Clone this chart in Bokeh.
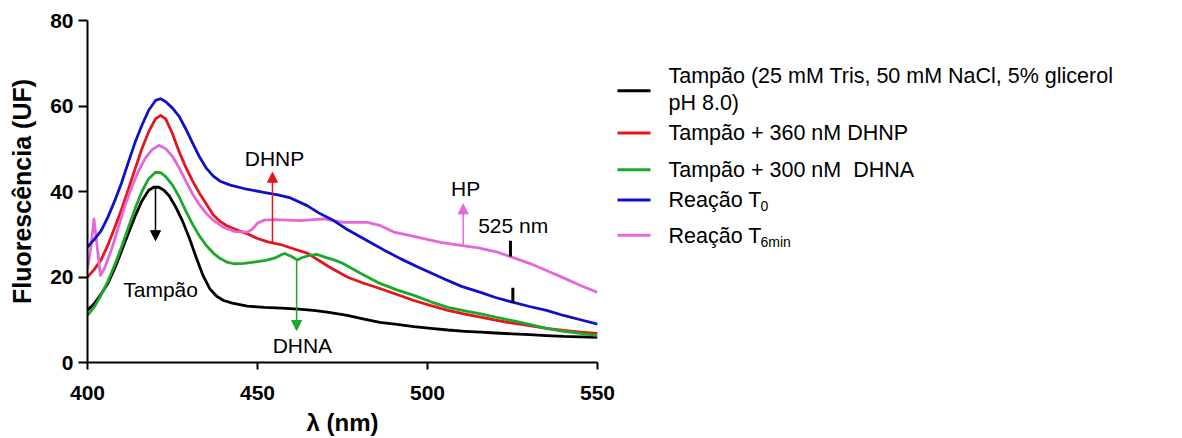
from bokeh.plotting import figure
from bokeh.models import Range1d, Label, Arrow, NormalHead
from bokeh.layouts import row
from bokeh.embed import file_html
from bokeh.resources import INLINE

# ---------------- data ----------------
lam_tampao = [400, 402, 404, 406, 408, 410, 412, 414, 416, 418, 419.5, 421, 422.5, 424, 426,
              428, 430, 432, 434, 436, 438, 440, 442.6, 447, 452, 457, 462, 466.5, 471,
              476.4, 481, 486, 491, 496, 501, 506, 511, 515.6, 520, 525, 530, 535, 540,
              545, 550]
uf_tampao = [12.2, 13.8, 16, 18.5, 22, 26, 30.2, 34.2, 37.8, 40.3, 41, 41, 40.3, 39, 36.3,
             33, 29, 24.5, 20.3, 17.2, 15.5, 14.5, 13.9, 13.2, 12.9, 12.7, 12.5, 12.2, 11.7,
             11, 10.2, 9.4, 8.9, 8.4, 8, 7.6, 7.3, 7.1, 6.9, 6.7, 6.5, 6.3, 6.1,
             6, 5.9]

lam_dhnp = [400, 402, 404, 406, 408, 410, 412, 414, 416, 418, 420, 421.5, 423, 425, 427,
            429, 431, 433, 435, 437, 439, 441, 444, 447, 450, 453, 456.8, 461, 464.6, 471,
            476.4, 481, 486, 491, 496, 501, 506, 511, 515.6, 520, 525, 530, 535, 540, 545,
            550]
uf_dhnp = [20, 21.8, 24, 27.5, 31.5, 35.8, 40.5, 45.3, 50, 54, 57, 57.8, 57, 53.5, 49.2,
           45.5, 42.3, 39.5, 37, 34.5, 33, 32, 31, 30.1, 29, 28.2, 27.6, 26.5, 25.6, 22.4,
           20, 18.6, 17.3, 15.9, 14.5, 13.3, 12.2, 11.3, 10.6, 9.9, 9.2, 8.6, 8, 7.5, 7.1,
           6.8]

lam_dhna = [400, 402, 404, 406, 408, 410, 412, 414, 416, 418, 420, 421.5, 423, 425, 427,
            429, 431, 433, 435, 437, 439, 441, 443, 446, 449, 452.4, 455, 457, 458, 460,
            461.7, 463, 465, 467.5, 470, 472.5, 475, 480, 486, 491, 496, 501, 506, 511,
            515.6, 520, 525, 530, 535, 540, 545, 550]
uf_dhna = [11, 13, 15.8, 19, 22.8, 27, 31.5, 36, 40, 43, 44.5, 44.4, 43.5, 41.5, 38.7,
           35.3, 32.2, 29.5, 27.3, 25.6, 24.3, 23.5, 23.1, 23.2, 23.5, 23.9, 24.4, 25.2,
           25.5, 24.8, 24, 24.5, 25, 25.3, 24.6, 24, 23.2, 21, 18.5, 17, 15.7, 14.2, 12.9,
           12.1, 11.4, 10.6, 9.8, 8.9, 8, 7.3, 6.8, 6.3]

lam_t0 = [400, 402, 404, 406, 408, 410, 412, 414, 416, 418, 420, 421.5, 423, 425, 427, 429,
          431, 433, 435, 437, 439, 442, 446, 451.8, 456, 459.7, 464.6, 468, 472.4, 476,
          482.3, 487, 492, 497, 504.8, 510, 515.6, 520, 525, 530, 535, 540, 545, 550]
uf_t0 = [27, 28.8, 30.8, 34, 37.8, 42, 46.8, 51.5, 55.5, 59, 61.3, 61.7, 61, 59.5, 57.5,
         54.5, 51.2, 48, 45.4, 43.6, 42.4, 41.5, 40.7, 39.8, 39.2, 38.5, 36.7, 35, 33.2, 31.3,
         28.5, 26.4, 24.3, 22.4, 19.6, 17.8, 16.4, 15.2, 14.1, 13.1, 12.2, 11, 10, 9]

lam_t6 = [400, 401, 401.9, 403, 403.8, 405, 407.3, 409, 411.2, 413, 415, 417, 419, 421, 423,
          425, 427, 429, 431, 433, 435, 437, 440, 443.5, 447, 448.5, 450, 452, 455, 462.6,
          469.4, 475.3, 482.3, 486.2, 490.1, 497, 503.8, 509.7, 515, 520.6, 525, 530, 535,
          540, 545, 550]
uf_t6 = [22, 27, 33.6, 26, 20.4, 22, 27, 31.5, 37.1, 41, 44.8, 47.8, 49.8, 50.8, 50,
         48.2, 45.5, 42.3, 39.3, 36.8, 34.8, 33.3, 31.6, 30.6, 30.5, 31.2, 32.6, 33.3, 33.4,
         33.2, 33.6, 32.8, 32.8, 32, 30.5, 29.3, 28.1, 27.4, 26.8, 25.8, 24.6, 23.2, 21.5,
         19.8, 18, 16.4]

colors = ["#000000", "#e4161c", "#1ca82a", "#1010c8", "#e468d8"]
x_ticks = [400, 450, 500, 550]
y_ticks = [0, 20, 40, 60, 80]

FONT = "Liberation Sans"

# ---------------- main chart ----------------
p = figure(width=615, height=438, output_backend="svg", toolbar_location=None, tools="",
           x_range=Range1d(400, 550), y_range=Range1d(0, 80),
           min_border_left=87, min_border_right=18, min_border_top=20, min_border_bottom=76)
p.outline_line_color = None
p.grid.visible = False
p.background_fill_color = "white"
p.border_fill_color = "white"

series = [(lam_tampao, uf_tampao), (lam_dhnp, uf_dhnp), (lam_dhna, uf_dhna),
          (lam_t6, uf_t6), (lam_t0, uf_t0)]
order_colors = [colors[0], colors[1], colors[2], colors[4], colors[3]]
for (lx, ly), c in zip(series, order_colors):
    p.line(lx, ly, line_color=c, line_width=2.8, line_join="round")

for ax in (p.xaxis[0], p.yaxis[0]):
    ax.axis_line_width = 2
    ax.axis_line_color = "black"
    ax.major_tick_line_width = 2
    ax.major_tick_in = 0
    ax.minor_tick_line_color = None
    ax.major_label_text_font = FONT
    ax.major_label_text_font_style = "bold"
    ax.major_label_text_font_size = "21px"
    ax.major_label_text_color = "black"
    ax.axis_label_text_font = FONT
    ax.axis_label_text_font_style = "bold"
    ax.axis_label_text_color = "black"

p.xaxis.ticker = x_ticks
p.yaxis.ticker = y_ticks
p.xaxis.major_tick_out = 7
p.yaxis.major_tick_out = 9
p.xaxis.major_label_standoff = 16
p.yaxis.major_label_standoff = 5
p.xaxis.axis_label = "λ (nm)"
p.yaxis.axis_label = "Fluorescência (UF)"
p.xaxis.axis_label_text_font_size = "24px"
p.yaxis.axis_label_text_font_size = "25px"
p.xaxis.axis_label_standoff = 6
p.yaxis.axis_label_standoff = 11

# annotation arrows
def arrow(x, y0, y1, c):
    p.add_layout(Arrow(x_start=x, y_start=y0, x_end=x, y_end=y1, line_color=c, line_width=1.5,
                       end=NormalHead(size=10, fill_color=c, line_color=c, line_width=1)))

arrow(420, 41, 28.5, colors[0])
arrow(454.4, 27.8, 44.5, colors[1])
arrow(461.5, 24, 7.5, colors[2])
arrow(510.5, 27.4, 37.1, colors[4])

# 525 nm markers
p.segment(x0=[524.4, 525.1], y0=[24.8, 13.9], x1=[524.4, 525.1], y1=[28.5, 17.5],
          line_color="black", line_width=3)

for (tx, ty, t) in [(421.5, 17, "Tampão"), (455, 47.7, "DHNP"), (463.2, 4, "DHNA"),
                    (511.2, 40.6, "HP"), (525.2, 32, "525 nm")]:
    p.add_layout(Label(x=tx, y=ty, text=t, text_align="center", text_baseline="middle",
                       text_font=FONT, text_font_size="21px", text_color="black"))

# ---------------- legend panel ----------------
leg_labels = ["Tampão (25 mM Tris, 50 mM NaCl, 5% glicerol\npH 8.0)", "Tampão + 360 nM DHNP",
              "Tampão + 300 nM\u00a0 DHNA", "Reação T", "Reação T"]
leg_subs = ["", "", "", "0", "6min"]

L = figure(width=567, height=438, output_backend="svg", toolbar_location=None, tools="",
           x_range=Range1d(0, 567), y_range=Range1d(438, 0),
           min_border=0, x_axis_location=None, y_axis_location=None)
L.outline_line_color = None
L.grid.visible = False

line_y = [90, 144, 191, 230, 275]
text_y = [[71, 106], [144], [191], [230], [276]]
L.segment(x0=[2] * 5, x1=[35] * 5, y0=line_y, y1=line_y, line_color=colors, line_width=3)
for lab, ys, sub in zip(leg_labels, text_y, leg_subs):
    for part, yy in zip(lab.split("\n"), ys):
        L.add_layout(Label(x=53, y=yy, text=part, text_align="left", text_baseline="middle",
                           text_font=FONT, text_font_size="21.5px", text_color="black"))
    if sub:
        L.add_layout(Label(x=145, y=ys[0] + 8, text=sub, text_align="left",
                           text_baseline="middle", text_font=FONT, text_font_size="14px",
                           text_color="black"))

layout = row(p, L)
open("out.html", "w").write(file_html(layout, INLINE))
